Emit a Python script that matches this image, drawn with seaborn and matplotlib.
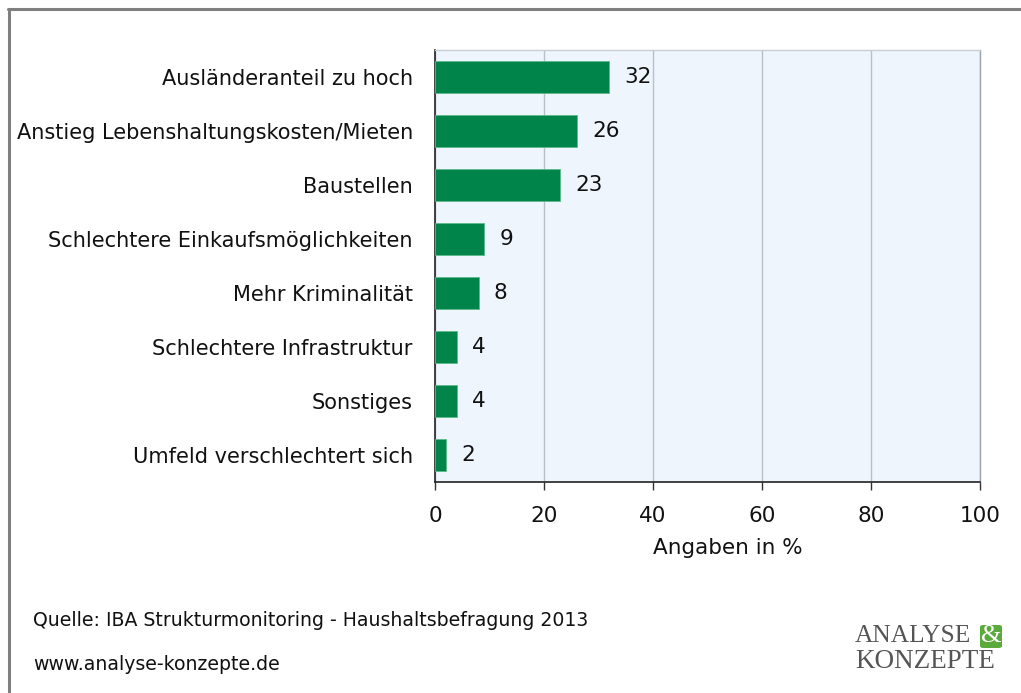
import matplotlib
matplotlib.use("Agg")
import matplotlib.pyplot as plt
import seaborn as sns
import pandas as pd
from matplotlib.patches import FancyBboxPatch
from matplotlib.lines import Line2D

categories = [
    "Ausländeranteil zu hoch",
    "Anstieg Lebenshaltungskosten/Mieten",
    "Baustellen",
    "Schlechtere Einkaufsmöglichkeiten",
    "Mehr Kriminalität",
    "Schlechtere Infrastruktur",
    "Sonstiges",
    "Umfeld verschlechtert sich",
]
values = [32, 26, 23, 9, 8, 4, 4, 2]
xticks = [0, 20, 40, 60, 80, 100]

df = pd.DataFrame({"cat": categories, "val": values})

sns.set_theme(style="white")
plt.rcParams["font.family"] = ["DejaVu Sans"]

W, H = 1021, 693
fig = plt.figure(figsize=(W / 100, H / 100), dpi=100)
ax = fig.add_axes([435 / W, 1 - 482 / H, (980 - 435) / W, (482 - 50) / H])
ax.set_facecolor("#EEF5FD")

sns.barplot(data=df, x="val", y="cat", ax=ax, color="#00844A", width=0.61,
            saturation=1, edgecolor="#5DBA8A", linewidth=0.6, zorder=3)

ax.set_xlim(0, 100)
ax.set_ylim(7.5, -0.5)
ax.set_xticks(xticks)
ax.set_xticklabels([str(t) for t in xticks], fontsize=15.5, color="#111111")
ax.tick_params(axis="x", direction="out", length=6, width=1, color="#333333", pad=11, bottom=True)
ax.tick_params(axis="y", length=0, pad=16, labelsize=15, labelcolor="#111111")
ax.xaxis.grid(True, color="#B8C0CC", linewidth=1, zorder=0)
ax.yaxis.grid(False)
ax.set_axisbelow(True)
ax.set_ylabel("")
ax.set_xlabel("Angaben in %", fontsize=15.5, color="#111111")
ax.xaxis.set_label_coords(0.538, -0.13)

ax.spines["top"].set_color("#C8CDD6")
ax.spines["top"].set_linewidth(1)
ax.spines["right"].set_color("#9AA3AE")
ax.spines["right"].set_linewidth(1)
ax.spines["left"].set_color("#222222")
ax.spines["left"].set_linewidth(1.2)
ax.spines["bottom"].set_color("#222222")
ax.spines["bottom"].set_linewidth(1.2)

for i, v in enumerate(values):
    ax.text(v + 2.8, i, str(v), va="center", ha="left", fontsize=15.5, color="#111111", zorder=4)

# outer frame (left & top)
fig.add_artist(Line2D([8.5 / W, 8.5 / W], [0, 1 - 9 / H], transform=fig.transFigure, color="#808080", lw=2.2))
fig.add_artist(Line2D([7.5 / W, 1], [1 - 9 / H, 1 - 9 / H], transform=fig.transFigure, color="#808080", lw=2.2))

fig.text(33 / W, 1 - 620 / H, "Quelle: IBA Strukturmonitoring - Haushaltsbefragung 2013",
         fontsize=13.6, color="#111111", va="center", ha="left")
fig.text(33 / W, 1 - 664 / H, "www.analyse-konzepte.de",
         fontsize=13.6, color="#111111", va="center", ha="left")

# logo
fig.text(855 / W, 1 - 636 / H, "ANALYSE", fontsize=18.3, family="Liberation Serif",
         color="#555555", va="center", ha="left")
fig.add_artist(FancyBboxPatch((980 / W, 1 - 648 / H), 22 / W, 23 / H,
                              boxstyle="round,pad=0,rounding_size=0.003",
                              transform=fig.transFigure, facecolor="#5BAA3C", edgecolor="none"))
fig.text(991 / W, 1 - 636 / H, "&", fontsize=19, family="Liberation Serif",
         color="white", va="center", ha="center")
fig.text(855 / W, 1 - 662 / H, "KONZEPTE", fontsize=19.5, family="Liberation Serif",
         color="#555555", va="center", ha="left")

fig.savefig("out.png", dpi=100)
